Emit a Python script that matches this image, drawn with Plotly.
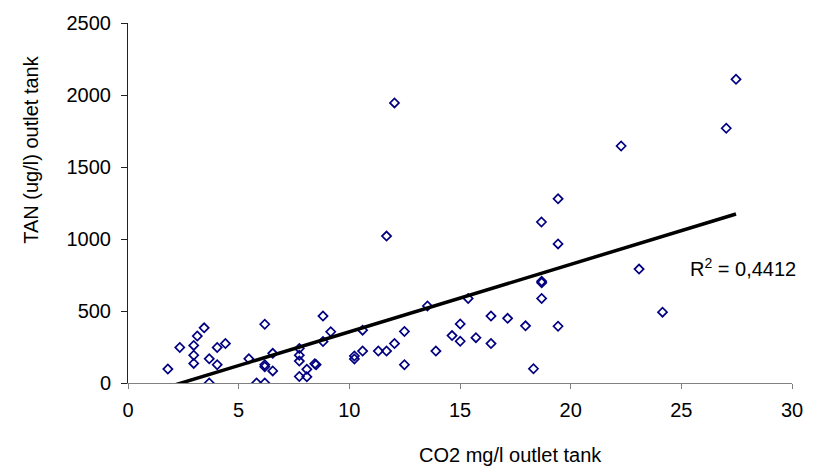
import numpy as np
import plotly.graph_objects as go

co2 = [1.80, 2.34, 2.97, 2.97, 2.97, 3.13, 3.44, 3.67, 3.67, 4.03, 4.03, 4.40,
       5.46, 5.81, 6.18, 6.18, 6.18, 6.18, 6.54, 6.54, 7.74, 7.74, 7.74, 7.74,
       8.08, 8.08, 8.44, 8.50, 8.81, 8.81, 9.16, 10.23, 10.23, 10.60, 10.60,
       11.31, 11.68, 11.68, 12.04, 12.04, 12.49, 12.49, 13.53, 13.91, 14.64,
       15.01, 15.01, 15.37, 15.72, 16.40, 16.40, 17.15, 17.96, 18.32, 18.69,
       18.69, 18.69, 18.68, 19.43, 19.43, 19.43, 22.28, 23.09, 24.15, 27.03, 27.47]
tan = [97, 247, 261, 193, 136, 326, 383, 168, 0, 247, 127, 274,
       168, 0, 408, 127, 113, 0, 206, 84, 240, 193, 152, 45,
       95, 43, 133, 127, 465, 288, 356, 188, 167, 367, 222,
       222, 222, 1020, 274, 1945, 358, 127, 535, 222, 329,
       410, 290, 587, 315, 465, 274, 449, 397, 99, 707,
       696, 587, 1118, 966, 394, 1279, 1646, 791, 492, 1769, 2109]

x_ticks = [0, 5, 10, 15, 20, 25, 30]
y_ticks = [0, 500, 1000, 1500, 2000, 2500]
r2_label = "R<sup>2</sup> = 0,4412"
x_title = "CO2 mg/l outlet tank"
y_title = "TAN (ug/l) outlet tank"

x = np.array(co2)
y = np.array(tan)
slope, intercept = np.polyfit(x, y, 1)
xl = np.array([x.min(), x.max()])
yl = slope * xl + intercept

FONT = "Liberation Sans, Arial"
FS = 20

fig = go.Figure()
fig.add_trace(go.Scatter(x=co2, y=tan, mode="markers",
                         marker=dict(symbol="diamond-open", size=7, color="#000080",
                                     line=dict(width=1.7, color="#000080")),
                         showlegend=False))
fig.add_trace(go.Scatter(x=xl, y=yl, mode="lines",
                         line=dict(color="black", width=3.5), showlegend=False))

fig.add_annotation(x=25.28, y=804, text=r2_label, showarrow=False, xanchor="left",
                   yanchor="middle", font=dict(family=FONT, size=FS, color="black"))
fig.add_annotation(xref="paper", yref="paper", x=0.576, y=-0.2005, text=x_title,
                   showarrow=False, xanchor="center", yanchor="middle",
                   font=dict(family=FONT, size=FS, color="black"))
fig.add_annotation(xref="paper", yref="paper", x=-0.146, y=0.648, text=y_title,
                   showarrow=False, xanchor="center", yanchor="middle", textangle=-90,
                   font=dict(family=FONT, size=FS, color="black"))

fig.update_layout(
    width=815, height=469,
    margin=dict(l=127.5, r=20, t=15.7, b=85.7),
    plot_bgcolor="white", paper_bgcolor="white",
    font=dict(family=FONT, size=FS, color="black"),
    xaxis=dict(range=[0, 30], tickvals=x_ticks, showgrid=False, zeroline=False,
               showline=True, linecolor="#808080", linewidth=1,
               ticks="outside", ticklen=5, tickcolor="#808080",
               tickfont=dict(size=FS), ticklabelstandoff=4),
    yaxis=dict(range=[0, 2500], tickvals=y_ticks, showgrid=False, zeroline=False,
               showline=True, linecolor="#222222", linewidth=1,
               ticks="outside", ticklen=6, tickcolor="#222222",
               tickfont=dict(size=FS), ticklabelstandoff=6),
)
fig.write_html("out.html")
